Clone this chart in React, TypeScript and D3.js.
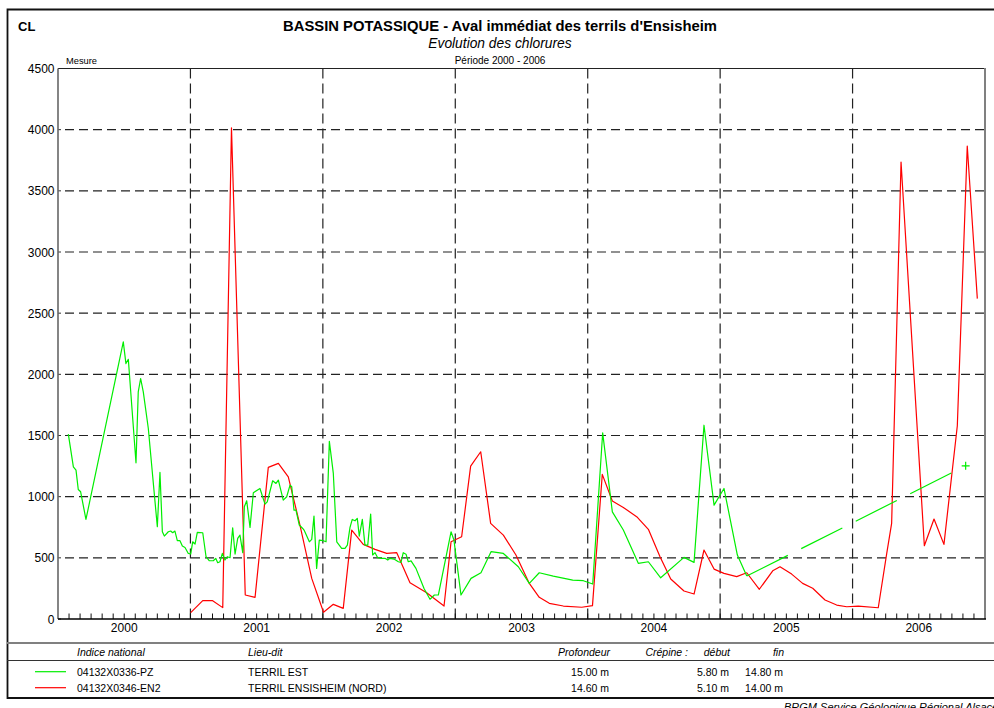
import React from 'react';
import * as d3 from 'd3';

// ---- data (decimal years, mg/l) ----
const greenYears = [
  2000.078, 2000.116, 2000.136, 2000.153, 2000.171, 2000.211, 2000.493, 2000.513, 2000.531, 2000.589,
  2000.606, 2000.624, 2000.644, 2000.682, 2000.750, 2000.770, 2000.788, 2000.803, 2000.833, 2000.851,
  2000.866, 2000.883, 2000.901, 2000.921, 2000.939, 2000.959, 2000.984, 2001.002, 2001.017, 2001.035,
  2001.052, 2001.093, 2001.118, 2001.143, 2001.173, 2001.191, 2001.206, 2001.223, 2001.241, 2001.261,
  2001.278, 2001.299, 2001.319, 2001.337, 2001.357, 2001.374, 2001.395, 2001.407, 2001.425, 2001.450,
  2001.475, 2001.525, 2001.563, 2001.580, 2001.621, 2001.646, 2001.664, 2001.701, 2001.727, 2001.752,
  2001.765, 2001.782, 2001.797, 2001.822, 2001.848, 2001.858, 2001.898, 2001.916, 2001.933, 2001.953,
  2001.973, 2002.003, 2002.024, 2002.049, 2002.079, 2002.105, 2002.142, 2002.167, 2002.185, 2002.205,
  2002.222, 2002.243, 2002.260, 2002.275, 2002.298, 2002.318, 2002.339, 2002.361, 2002.376, 2002.394,
  2002.414, 2002.444, 2002.469, 2002.490, 2002.507, 2002.537, 2002.570, 2002.590, 2002.607, 2002.628,
  2002.645, 2002.666, 2002.703, 2002.764, 2002.809, 2002.842, 2002.872, 2002.968, 2002.990, 2003.043,
  2003.119, 2003.194, 2003.270, 2003.363, 2003.476, 2003.559, 2003.634, 2003.740, 2003.887, 2003.967,
  2004.038, 2004.113, 2004.186, 2004.269, 2004.382, 2004.458, 2004.551, 2004.727, 2004.803, 2004.878,
  2004.954, 2005.029, 2005.130, 2005.201,
];
const greenValues = [
  1511, 1244, 1217, 1059, 1040, 814, 2265, 2088, 2123, 1277,
  1857, 1966, 1857, 1557, 754, 1198, 713, 678, 713, 719,
  705, 719, 640, 640, 596, 585, 536, 531, 631, 613,
  708, 705, 509, 476, 476, 496, 460, 468, 536, 482,
  509, 501, 746, 531, 659, 686, 542, 917, 966, 749,
  1032, 1067, 939, 958, 1130, 1108, 1135, 972, 999, 1094,
  1081, 890, 890, 768, 740, 727, 631, 651, 841, 414,
  645, 640, 631, 1452, 1190, 631, 577, 577, 604, 749,
  814, 803, 822, 678, 814, 604, 604, 858, 523, 542,
  501, 496, 496, 482, 496, 490, 468, 463, 542, 530,
  468, 475, 414, 250, 161, 196, 196, 713, 645, 196,
  332, 378, 550, 536, 427, 291, 378, 351, 318, 313,
  286, 1522, 876, 727, 455, 468, 337, 504, 463, 1584,
  931, 1067, 523, 351,
];
// last isolated measurement (joined by a dashed segment)
const greenLastYear = 2006.854;
const greenLastValue = 1252;

const redYears = [
  2001.002, 2001.093, 2001.168, 2001.244, 2001.310, 2001.414, 2001.488, 2001.588, 2001.664, 2001.739,
  2001.827, 2001.916, 2002.005, 2002.079, 2002.154, 2002.218, 2002.305, 2002.394, 2002.482, 2002.558,
  2002.658, 2002.784, 2002.915, 2002.968, 2003.048, 2003.116, 2003.192, 2003.267, 2003.363, 2003.458,
  2003.559, 2003.634, 2003.710, 2003.816, 2003.955, 2004.036, 2004.110, 2004.186, 2004.269, 2004.375,
  2004.458, 2004.546, 2004.627, 2004.727, 2004.803, 2004.878, 2004.954, 2005.029, 2005.125, 2005.201,
  2005.296, 2005.397, 2005.452, 2005.540, 2005.623, 2005.699, 2005.792, 2005.880, 2005.956, 2006.043,
  2006.194, 2006.258, 2006.295, 2006.366, 2006.542, 2006.615, 2006.690, 2006.791, 2006.866, 2006.942,
];
const redValues = [
  52, 150, 150, 93, 4015, 196, 177, 1239, 1272, 1162,
  768, 332, 55, 120, 87, 727, 610, 569, 536, 542,
  297, 215, 106, 631, 672, 1250, 1367, 782, 686, 523,
  291, 177, 128, 106, 96, 109, 1182, 964, 912, 831,
  733, 509, 327, 229, 204, 564, 408, 373, 346, 378,
  243, 394, 427, 367, 291, 251, 155, 114, 100, 106,
  92, 536, 782, 3735, 599, 817, 610, 1580, 3866, 2619,
];

const yTicks = [0, 500, 1000, 1500, 2000, 2500, 3000, 3500, 4000, 4500];
const years = [2000, 2001, 2002, 2003, 2004, 2005, 2006];

const wells = ['04132X0336-PZ', '04132X0346-EN2'];
const lieux = ['TERRIL EST', 'TERRIL ENSISHEIM (NORD)'];
const profondeurs = ['15.00 m', '14.60 m'];
const debuts = ['5.80 m', '5.10 m'];
const fins = ['14.80 m', '14.00 m'];
const seriesColors = ['#00ee00', '#ff0000'];

const FONT = '"Liberation Sans", Arial, Helvetica, sans-serif';

export default function App() {
  const left = 58, right = 985, top = 68.5, bottom = 619;
  const x = d3.scaleLinear().domain([2000, 2007]).range([left, right]);
  const y = d3.scaleLinear().domain([0, 4500]).range([bottom, top]);

  const line = d3.line<[number, number]>().x(d => x(d[0])).y(d => y(d[1]));
  const greenPts: [number, number][] = greenYears.map((t, i) => [t, greenValues[i]]);
  const redPts: [number, number][] = redYears.map((t, i) => [t, redValues[i]]);
  const gLast = greenPts[greenPts.length - 1];
  const gapPath = line([gLast, [greenLastYear, greenLastValue]]) || '';

  const months = d3.range(1, 84);
  const gx = x(greenLastYear), gy = y(greenLastValue);

  return (
    <svg width={994} height={708} style={{ position: 'absolute', left: 0, top: 0, background: '#fff' }}
      fontFamily={FONT}>
      <rect x={0} y={0} width={994} height={708} fill="#fff" />
      {/* outer frame */}
      <path d={`M1002,9.5 H7.5 V698 H1002`} fill="none" stroke="#111" strokeWidth={1.8} />
      {/* titles */}
      <text x={18} y={31} fontSize={13} fontWeight="bold">CL</text>
      <text x={500} y={31} fontSize={14.8} fontWeight="bold" textAnchor="middle">
        BASSIN POTASSIQUE - Aval immédiat des terrils d'Ensisheim
      </text>
      <text x={500} y={48} fontSize={13.8} fontStyle="italic" textAnchor="middle">Evolution des chlorures</text>
      <text x={500} y={63.5} fontSize={10} textAnchor="middle">Période 2000 - 2006</text>
      <text x={66} y={63.5} fontSize={9.3}>Mesure</text>

      {/* horizontal dashed grid */}
      {yTicks.filter(v => v > 0 && v < 4500).map(v => (
        <line key={'h' + v} x1={left + 3} x2={right} y1={y(v)} y2={y(v)}
          stroke="#222" strokeWidth={1.2} strokeDasharray="9,5" strokeDashoffset={-4} />
      ))}
      {/* vertical dashed grid at year boundaries */}
      {years.slice(1).map(yr => (
        <line key={'v' + yr} x1={x(yr)} x2={x(yr)} y1={top} y2={bottom}
          stroke="#222" strokeWidth={1.2} strokeDasharray="10,5" />
      ))}
      {/* monthly ticks */}
      {months.map(m => (
        <line key={'m' + m} x1={x(2000 + m / 12)} x2={x(2000 + m / 12)} y1={bottom} y2={bottom - 5.5}
          stroke="#111" strokeWidth={1} />
      ))}
      {/* y ticks and labels */}
      {yTicks.map(v => (
        <g key={'yt' + v}>
          <line x1={left} x2={left + 3} y1={y(v)} y2={y(v)} stroke="#333" strokeWidth={1} />
          <text x={54.5} y={y(v) + 4.5} fontSize={12} textAnchor="end">{v}</text>
        </g>
      ))}
      {/* year labels */}
      {years.map(yr => (
        <text key={'yl' + yr} x={x(yr + 0.5)} y={632} fontSize={12} textAnchor="middle">{yr}</text>
      ))}

      {/* plot frame */}
      <line x1={left} x2={right} y1={top} y2={top} stroke="#222" strokeWidth={1} />
      <line x1={left} x2={left} y1={top} y2={bottom} stroke="#666" strokeWidth={1.6} />
      <line x1={right} x2={right} y1={top - 0.5} y2={bottom} stroke="#808080" strokeWidth={2} />
      <line x1={left} x2={right + 1} y1={bottom} y2={bottom} stroke="#000" strokeWidth={1.6} />

      {/* series */}
      <path d={line(redPts) || ''} fill="none" stroke={seriesColors[1]} strokeWidth={1.2} strokeLinejoin="round" />
      <path d={line(greenPts) || ''} fill="none" stroke={seriesColors[0]} strokeWidth={1.2} strokeLinejoin="round" />
      <path d={gapPath} fill="none" stroke={seriesColors[0]} strokeWidth={1.2} strokeDasharray="46,15" />
      <path d={`M${gx - 4},${gy} H${gx + 4} M${gx},${gy - 4} V${gy + 4}`} stroke={seriesColors[0]} strokeWidth={1.2} />

      {/* legend table */}
      <line x1={7} x2={1002} y1={643} y2={643} stroke="#808080" strokeWidth={2} />
      <line x1={7} x2={1002} y1={660.5} y2={660.5} stroke="#333" strokeWidth={1} />
      <g fontSize={10.5} fontStyle="italic">
        <text x={77} y={656}>Indice national</text>
        <text x={248} y={656}>Lieu-dit</text>
        <text x={610} y={656} textAnchor="end">Profondeur</text>
        <text x={688} y={656} textAnchor="end">Crépine :</text>
        <text x={730} y={656} textAnchor="end">début</text>
        <text x={784} y={656} textAnchor="end">fin</text>
      </g>
      {wells.map((w, i) => {
        const by = 675.7 + i * 16;
        const ly = 671.7 + i * 16;
        return (
          <g key={'lg' + i} fontSize={10.5}>
            <line x1={35} x2={66} y1={ly} y2={ly} stroke={seriesColors[i]} strokeWidth={1.2} />
            <text x={77} y={by}>{w}</text>
            <text x={248} y={by}>{lieux[i]}</text>
            <text x={609} y={by} textAnchor="end">{profondeurs[i]}</text>
            <text x={729} y={by} textAnchor="end">{debuts[i]}</text>
            <text x={783} y={by} textAnchor="end">{fins[i]}</text>
          </g>
        );
      })}
      <text x={784} y={710.5} fontSize={11} fontStyle="italic">BRGM Service Géologique Régional Alsace</text>
    </svg>
  );
}
